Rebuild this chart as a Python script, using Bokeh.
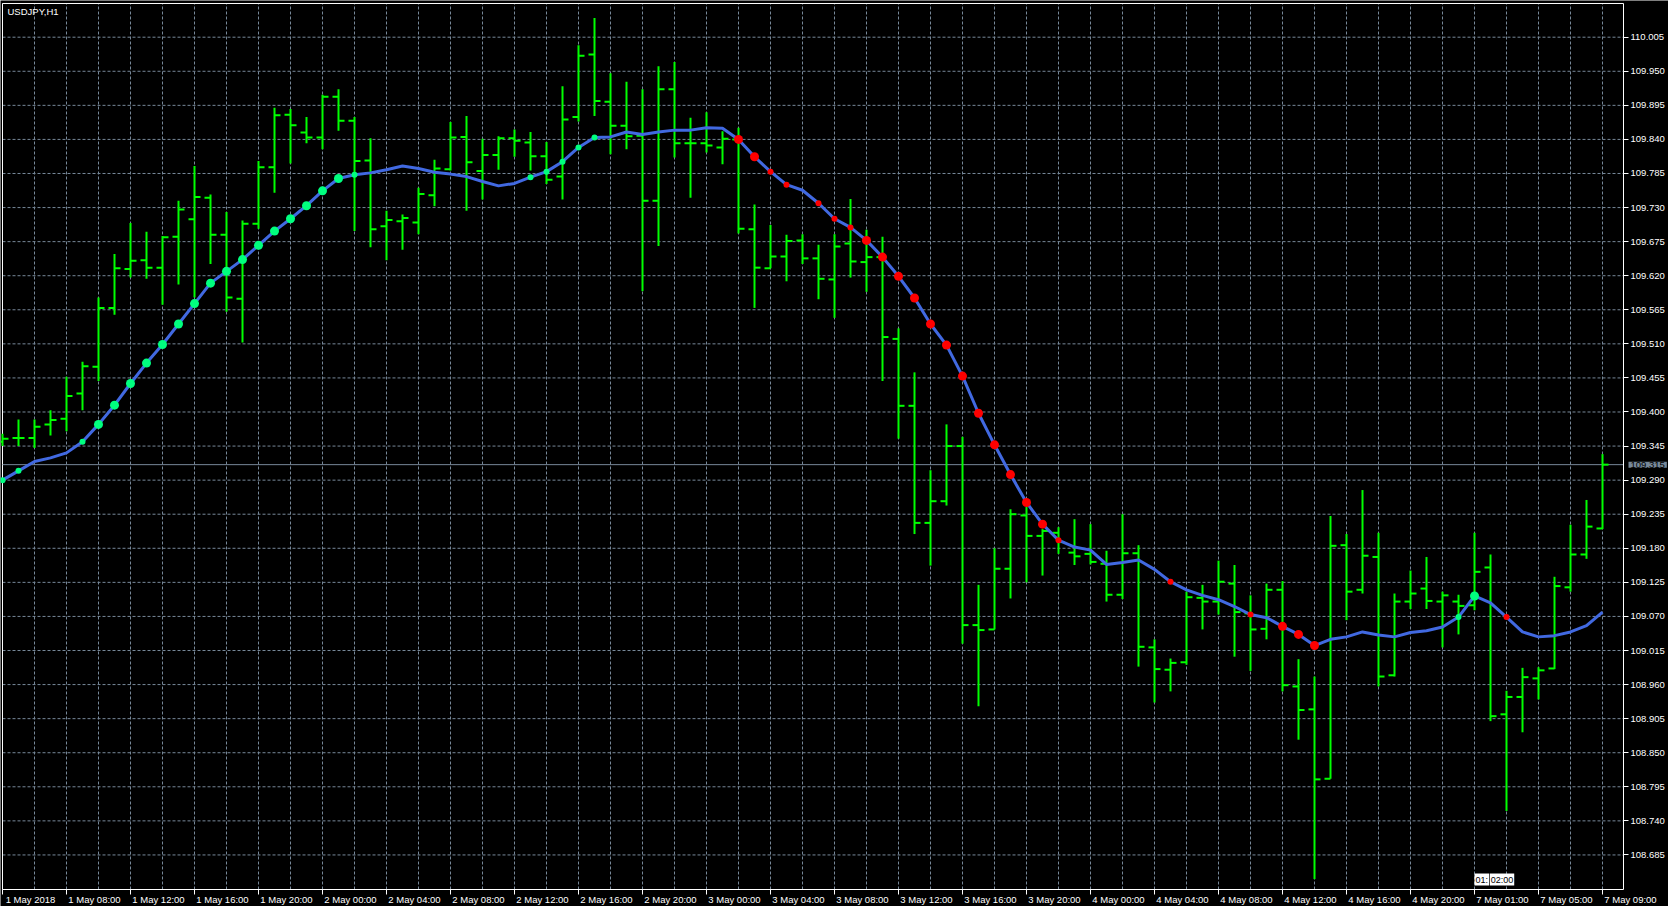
from bokeh.plotting import figure
from bokeh.models import Range1d, FixedTicker, LinearAxis, Label, ColumnDataSource
from bokeh.embed import file_html
from bokeh.resources import INLINE

# ---------------- data (USDJPY H1, bar index 0 = 1 May 04:00) ----------------
opens = [109.352, 109.358, 109.358, 109.380, 109.389, 109.430, 109.473, 109.568, 109.631, 109.645,
         109.633, 109.683, 109.711, 109.746, 109.686, 109.583, 109.704, 109.795, 109.880, 109.851,
         109.843, 109.909, 109.870, 109.806, 109.700, 109.708, 109.706, 109.750, 109.792, 109.844,
         109.789, 109.815, 109.842, 109.835, 109.813, 109.780, 109.876, 109.977, 109.901, 109.862,
         109.846, 109.741, 109.921, 109.834, 109.834, 109.827, 109.840, 109.695, 109.632, 109.651,
         109.677, 109.648, 109.614, 109.672, 109.642, 109.650, 109.518, 109.410, 109.221, 109.256,
         109.345, 109.056, 109.049, 109.147, 109.233, 109.200, 109.205, 109.173, 109.171, 109.155,
         109.105, 109.172, 109.020, 108.984, 108.996, 109.100, 109.094, 109.123, 109.075, 109.050,
         109.113, 108.957, 108.920, 108.808, 109.185, 109.113, 109.166, 108.975, 109.094, 109.115,
         109.094, 109.094, 109.088, 109.149, 108.912, 108.940, 108.970, 108.986, 109.117, 109.170,
         109.212]
highs = [109.365, 109.388, 109.388, 109.403, 109.457, 109.481, 109.585, 109.655, 109.705, 109.691,
         109.684, 109.741, 109.797, 109.751, 109.723, 109.709, 109.805, 109.891, 109.889, 109.876,
         109.912, 109.921, 109.876, 109.842, 109.725, 109.719, 109.762, 109.807, 109.868, 109.878,
         109.841, 109.845, 109.856, 109.852, 109.836, 109.926, 109.992, 110.036, 109.947, 109.933,
         109.921, 109.958, 109.965, 109.875, 109.884, 109.853, 109.859, 109.735, 109.702, 109.686,
         109.687, 109.670, 109.687, 109.744, 109.694, 109.683, 109.535, 109.464, 109.306, 109.380,
         109.360, 109.121, 109.180, 109.243, 109.247, 109.211, 109.214, 109.227, 109.219, 109.176,
         109.235, 109.185, 109.033, 109.002, 109.110, 109.121, 109.160, 109.153, 109.104, 109.123,
         109.127, 109.001, 108.973, 109.232, 109.203, 109.274, 109.205, 109.107, 109.144, 109.166,
         109.110, 109.105, 109.205, 109.170, 108.950, 108.987, 108.988, 109.134, 109.218, 109.258,
         109.332]
lows = [109.345, 109.345, 109.342, 109.362, 109.369, 109.403, 109.450, 109.557, 109.617, 109.615,
        109.573, 109.606, 109.585, 109.639, 109.562, 109.512, 109.696, 109.754, 109.801, 109.834,
        109.824, 109.854, 109.692, 109.666, 109.645, 109.662, 109.687, 109.732, 109.790, 109.725,
        109.743, 109.791, 109.812, 109.790, 109.768, 109.743, 109.869, 109.878, 109.816, 109.824,
        109.595, 109.668, 109.811, 109.746, 109.819, 109.800, 109.688, 109.568, 109.632, 109.611,
        109.639, 109.582, 109.552, 109.617, 109.594, 109.450, 109.357, 109.203, 109.152, 109.249,
        109.026, 108.925, 109.049, 109.099, 109.125, 109.136, 109.171, 109.153, 109.154, 109.094,
        109.098, 108.989, 108.931, 108.949, 108.992, 109.049, 109.073, 109.005, 108.982, 109.033,
        108.949, 108.871, 108.646, 108.808, 109.064, 109.107, 108.957, 108.973, 109.082, 109.082,
        109.020, 109.041, 109.080, 108.901, 108.756, 108.883, 108.936, 108.985, 109.110, 109.163,
        109.211]
closes = [109.357, 109.358, 109.376, 109.387, 109.426, 109.474, 109.568, 109.632, 109.644, 109.633,
          109.682, 109.727, 109.747, 109.686, 109.585, 109.704, 109.795, 109.879, 109.863, 109.843,
          109.909, 109.870, 109.805, 109.695, 109.710, 109.713, 109.752, 109.793, 109.843, 109.803,
          109.815, 109.842, 109.838, 109.813, 109.775, 109.872, 109.975, 109.902, 109.862, 109.845,
          109.741, 109.921, 109.834, 109.834, 109.830, 109.841, 109.696, 109.633, 109.651, 109.676,
          109.648, 109.615, 109.667, 109.643, 109.650, 109.521, 109.410, 109.221, 109.256, 109.345,
          109.056, 109.048, 109.147, 109.235, 109.200, 109.208, 109.190, 109.167, 109.158, 109.105,
          109.172, 109.021, 108.985, 108.995, 109.101, 109.094, 109.126, 109.077, 109.049, 109.113,
          108.959, 108.919, 108.807, 109.184, 109.110, 109.168, 108.973, 109.094, 109.107, 109.095,
          109.104, 109.087, 109.142, 108.909, 108.940, 108.972, 108.983, 109.119, 109.170, 109.215,
          109.315]
ma = [109.290, 109.305, 109.320, 109.326, 109.334, 109.352, 109.380, 109.411, 109.446, 109.479,
      109.509, 109.542, 109.575, 109.608, 109.627, 109.646, 109.669, 109.692, 109.712, 109.733,
      109.757, 109.777, 109.783, 109.786, 109.791, 109.797, 109.793, 109.787, 109.784, 109.780,
      109.772, 109.765, 109.769, 109.779, 109.788, 109.804, 109.827, 109.843, 109.844, 109.852,
      109.848, 109.852, 109.855, 109.855, 109.859, 109.858, 109.840, 109.812, 109.788, 109.767,
      109.758, 109.737, 109.712, 109.698, 109.677, 109.650, 109.619, 109.584, 109.542, 109.508,
      109.458, 109.398, 109.347, 109.299, 109.254, 109.219, 109.193, 109.182, 109.177, 109.154,
      109.157, 109.161, 109.146, 109.126, 109.113, 109.104, 109.097, 109.086, 109.073, 109.068,
      109.054, 109.041, 109.023, 109.033, 109.037, 109.045, 109.040, 109.037, 109.044, 109.047,
      109.053, 109.069, 109.103, 109.092, 109.069, 109.045, 109.037, 109.039, 109.045, 109.055,
      109.077]
# signal per bar (10 bars per chunk): U strong up, u weak up, D strong down, d weak down, . none
signals = ("uu...uUUUU" "UUUUUUUUUU" "UUu......." "...uuuuu.." "......DDdd"
           ".dddDDDDDD" "DDDDDDd..." "...d....d." "DDD......." ".uU.d....." ".")
x_labels = ["1 May 2018", "1 May 08:00", "1 May 12:00", "1 May 16:00", "1 May 20:00",
            "2 May 00:00", "2 May 04:00", "2 May 08:00", "2 May 12:00", "2 May 16:00",
            "2 May 20:00", "3 May 00:00", "3 May 04:00", "3 May 08:00", "3 May 12:00",
            "3 May 16:00", "3 May 20:00", "4 May 00:00", "4 May 04:00", "4 May 08:00",
            "4 May 12:00", "4 May 16:00", "4 May 20:00", "7 May 01:00", "7 May 05:00",
            "7 May 09:00"]
y_labels = ["108.685", "108.740", "108.795", "108.850", "108.905", "108.960", "109.015",
            "109.070", "109.125", "109.180", "109.235", "109.290", "109.345", "109.400",
            "109.455", "109.510", "109.565", "109.620", "109.675", "109.730", "109.785",
            "109.840", "109.895", "109.950", "110.005"]
symbol = "USDJPY,H1"
last_price = 109.315

# ---------------- geometry ----------------
n = len(opens)
idx = list(range(n))
W, H = 1668, 906
SX, SY = 16.0, 619.5             # pixels per bar, pixels per yen
LEFT_PX, TOP_REF_PX = 2.0, 36.7  # canvas x of bar 0; canvas y of the 110.005 line
X0, XA = 0.0, 101.3125           # chart area: left edge, price-scale line
YB, YT = 108.6292, 110.0594      # chart area: bottom, top
FONT = "Liberation Sans"
GRID = "#778899"

x_start = X0 - LEFT_PX / SX
y_end = 110.005 + TOP_REF_PX / SY
xr = Range1d(x_start, x_start + W / SX)
yr = Range1d(y_end - H / SY, y_end)
p = figure(width=W, height=H, output_backend="svg", toolbar_location=None,
           x_range=xr, y_range=yr, x_axis_location=None, y_axis_location="right",
           min_border=0)
p.background_fill_color = "black"
p.border_fill_color = "black"
p.outline_line_color = None
p.xgrid.visible = False
p.ygrid.visible = False

yticks = [float(s) for s in y_labels]
xticks_bar = [4 * k for k in range(len(x_labels))]
even = list(range(0, n, 2))

# dashed grid limited to the chart area
p.segment(x0=even, y0=[YB] * len(even), x1=even, y1=[YT] * len(even),
          line_color=GRID, line_width=1, line_dash="3 2")
p.segment(x0=[X0] * len(yticks), y0=yticks, x1=[XA] * len(yticks), y1=yticks,
          line_color=GRID, line_width=1, line_dash="3 2")
# top and left frame lines
p.segment(x0=[X0, X0], y0=[YT, YB], x1=[XA, X0], y1=[YT, YT], line_color="white", line_width=1)

# price scale
ya = p.yaxis[0]
ya.fixed_location = XA
ya.bounds = (YB, YT)
ya.ticker = FixedTicker(ticks=yticks)
ya.major_label_overrides = {t: s for t, s in zip(yticks, y_labels)}
ya.axis_line_color = "white"
ya.major_tick_line_color = "white"
ya.major_tick_out = 5
ya.major_tick_in = 0
ya.minor_tick_line_color = None
ya.minor_tick_out = 0
ya.major_label_text_color = "white"
ya.major_label_text_font = FONT
ya.major_label_text_font_size = "9.5px"
ya.major_label_standoff = 2

# time scale: tick marks, and dates written just right of each mark
ax_ticks = LinearAxis(ticker=FixedTicker(ticks=xticks_bar), fixed_location=YB, bounds=(X0, XA),
                      axis_line_color="white", major_tick_line_color="white",
                      major_tick_out=5, major_tick_in=0, minor_tick_line_color=None,
                      minor_tick_out=0, major_label_text_font_size="1px",
                      major_label_text_color=None,
                      major_label_overrides={float(t): "" for t in xticks_bar})
p.add_layout(ax_ticks, "below")
lab_pos = [t + 1.75 for t in xticks_bar]
ax_lab = LinearAxis(ticker=FixedTicker(ticks=lab_pos), fixed_location=YB, axis_line_color=None,
                    major_tick_line_color=None, minor_tick_line_color=None,
                    major_tick_out=0, major_tick_in=0, minor_tick_out=0, minor_tick_in=0,
                    major_label_text_color="white", major_label_text_font=FONT,
                    major_label_text_font_size="9.5px", major_label_standoff=4,
                    major_label_overrides={t: s for t, s in zip(lab_pos, x_labels)})
p.add_layout(ax_lab, "below")

# current price line and its box on the price scale
p.segment(x0=[X0], y0=[last_price], x1=[XA], y1=[last_price], line_color=GRID, line_width=1)
p.add_layout(Label(x=XA, y=last_price, x_offset=5, text=f"{last_price:.3f}", text_color="black",
                   text_font=FONT, text_font_size="9.5px", text_baseline="middle",
                   text_align="left", background_fill_color=GRID, padding=(2, 0)))

# OHLC bars
src = ColumnDataSource(dict(
    x=idx, o=opens, h=highs, l=lows, c=closes,
    xl=[i - 0.375 for i in idx], xr=[i + 0.375 for i in idx]))
bar_col = "#00FF00"
p.segment(x0="x", y0="l", x1="x", y1="h", source=src, line_color=bar_col, line_width=2)
p.segment(x0="xl", y0="o", x1="x", y1="o", source=src, line_color=bar_col, line_width=2)
p.segment(x0="x", y0="c", x1="xr", y1="c", source=src, line_color=bar_col, line_width=2)

# moving average with signal dots
p.line(idx, ma, line_color="#4169E1", line_width=3)
style = {"U": ("#00FF7F", 9), "u": ("#00FF7F", 6), "D": ("#FF0000", 9), "d": ("#FF0000", 6)}
dx, dy, dc, ds = [], [], [], []
for i, s in enumerate(signals[:n]):
    if s in style:
        dx.append(i); dy.append(ma[i]); dc.append(style[s][0]); ds.append(style[s][1])
p.scatter(dx, dy, size=ds, fill_color=dc, line_color=None)

# symbol caption
p.add_layout(Label(x=X0, y=YT, x_offset=5, y_offset=-3, text=symbol, text_color="white",
                   text_font=FONT, text_font_size="9.5px", text_baseline="top"))
# time marker boxes
p.add_layout(Label(x=92, y=YB, y_offset=4, text="01:", text_color="black", text_font=FONT,
                   text_font_size="9px", text_baseline="bottom", background_fill_color="white",
                   padding=1))
p.add_layout(Label(x=92.95, y=YB, y_offset=4, text="02:00", text_color="black", text_font=FONT,
                   text_font_size="9px", text_baseline="bottom", background_fill_color="white",
                   padding=1))

open("out.html", "w").write(file_html(p, INLINE))
